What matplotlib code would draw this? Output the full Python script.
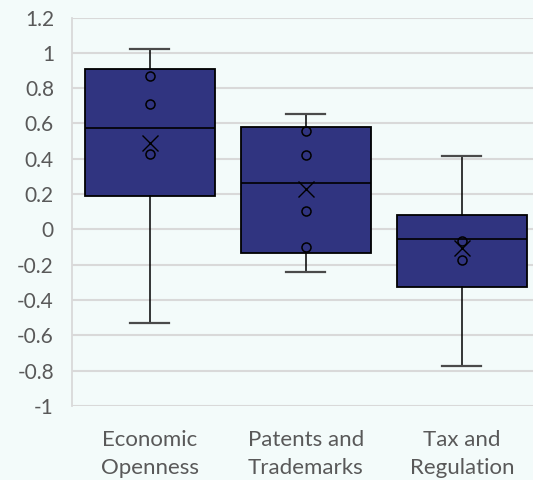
import matplotlib.pyplot as plt

# Box plot summary per category (Excel-style: whiskers to min/max, mean shown as X)
categories = ["Economic\nOpenness", "Patents and\nTrademarks", "Tax and\nRegulation"]
whisker_low = [-0.53, -0.24, -0.775]
q1 = [0.19, -0.135, -0.325]
median = [0.573, 0.263, -0.052]
q3 = [0.908, 0.578, 0.08]
whisker_high = [1.023, 0.652, 0.418]
means = [0.488, 0.228, -0.107]
inner_points = [
    [0.87, 0.712, 0.427],
    [0.556, 0.421, 0.106, -0.101],
    [-0.066, -0.173],
]
y_ticks = [1.2, 1, 0.8, 0.6, 0.4, 0.2, 0, -0.2, -0.4, -0.6, -0.8, -1]

bg = "#F3FBFA"
box_fill = "#303480"
text_col = "#595959"

plt.rcParams["font.family"] = ["Lato", "DejaVu Sans"]

fig = plt.figure(figsize=(5.33, 4.8), dpi=100, facecolor=bg)
ax = fig.add_axes([0.135, 0.154, 0.878, 0.8095], facecolor=bg)

stats = []
for i, name in enumerate(categories):
    stats.append(dict(label=name, whislo=whisker_low[i], q1=q1[i], med=median[i],
                      q3=q3[i], whishi=whisker_high[i], mean=means[i], fliers=[]))

positions = list(range(1, len(categories) + 1))
ax.bxp(stats, positions=positions, widths=0.835, patch_artist=True,
       showmeans=True, showfliers=False,
       boxprops=dict(facecolor=box_fill, edgecolor="black", linewidth=1.3),
       medianprops=dict(color="black", linewidth=1.2),
       whiskerprops=dict(color="black", linewidth=1.1),
       capprops=dict(color="#4a4a4a", linewidth=1.6),
       capwidths=0.25,
       meanprops=dict(marker="x", markersize=11, markeredgecolor="black",
                      markeredgewidth=1.0),
       zorder=3)

# inner data points as open circles
for pos, pts in zip(positions, inner_points):
    ax.plot([pos] * len(pts), pts, linestyle="none", marker="o", markersize=6.5,
            markerfacecolor="none", markeredgecolor="black", markeredgewidth=1.1,
            zorder=4)

ax.set_ylim(-1, 1.2)
ax.set_xlim(0.5, 3.5)
ax.set_yticks(y_ticks)
ax.set_yticklabels([f"{t:g}" for t in y_ticks])
ax.set_xticks(positions)
ax.set_xticklabels(categories, linespacing=1.55, fontsize=16)
ax.grid(axis="y", color="#D9D9D9", linewidth=1.5, zorder=0)
ax.set_axisbelow(True)

for side in ["top", "right", "bottom"]:
    ax.spines[side].set_visible(False)
ax.spines["left"].set_color("#D9D9D9")
ax.spines["left"].set_linewidth(1.3)

ax.tick_params(axis="both", length=0, colors=text_col)
ax.tick_params(axis="y", pad=13, labelsize=15)
ax.tick_params(axis="x", pad=17)

fig.savefig("out.png", dpi=100, facecolor=bg)
